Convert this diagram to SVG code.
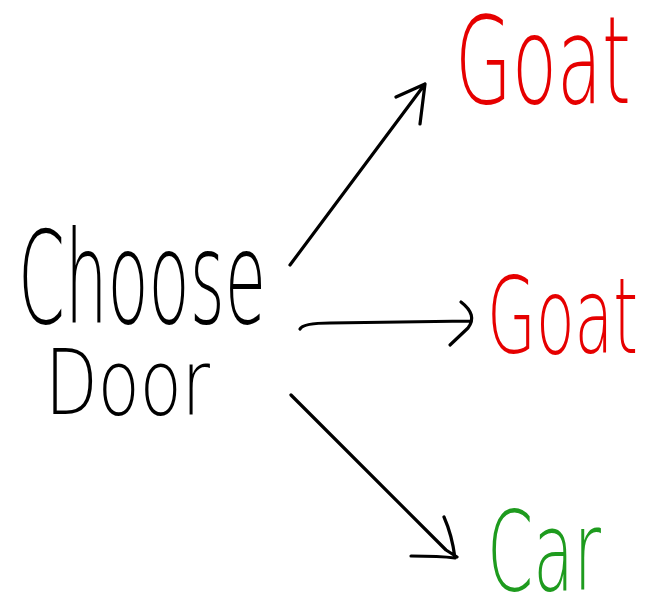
<svg xmlns="http://www.w3.org/2000/svg" width="650" height="599" viewBox="0 0 650 599">
<style>
.lbl{font-family:"DejaVu Sans","Liberation Sans",sans-serif;font-weight:200;}
.blk{fill:#000;}
.red{fill:#e60000;}
.grn{fill:#1e9b1e;}
.arr{fill:none;stroke:#000;stroke-width:3.2;stroke-linecap:round;stroke-linejoin:round;}
</style>
<rect width="650" height="599" fill="#fff"/>
<g id="choose-door">
<text class="lbl blk" transform="translate(18 323) scale(0.525 1)" x="0" y="0" font-size="128" textLength="472.4" lengthAdjust="spacingAndGlyphs">Choose</text>
<text class="lbl blk" transform="translate(45 414) scale(0.762 1)" x="0" y="0" font-size="90" textLength="216.5" lengthAdjust="spacingAndGlyphs">Door</text>
</g>
<g id="goat-top">
<text class="lbl red" transform="translate(455 103) scale(0.6 1)" x="0" y="0" font-size="122" textLength="293" lengthAdjust="spacingAndGlyphs">Goat</text>
</g>
<g id="goat-mid">
<text class="lbl red" transform="translate(487 353) scale(0.6 1)" x="0" y="0" font-size="105" textLength="251.7" lengthAdjust="spacingAndGlyphs">Goat</text>
</g>
<g id="car">
<text class="lbl grn" transform="translate(487 590) scale(0.603 1)" x="0" y="0" font-size="110" textLength="189" lengthAdjust="spacingAndGlyphs">Car</text>
</g>
<g id="connectors">
<path class="arr" d="M290 265 L425 84 M396 97 L425 84 L420 124"/>
<path class="arr" d="M300 329 Q303 323 330 323 L470 321 M461 302 Q478 315 468 328 L450 345"/>
<path class="arr" d="M291 395 L446 550 L457 557 M444 517 Q452 535 455 558 Q440 556 411 556"/>
</g>
</svg>
